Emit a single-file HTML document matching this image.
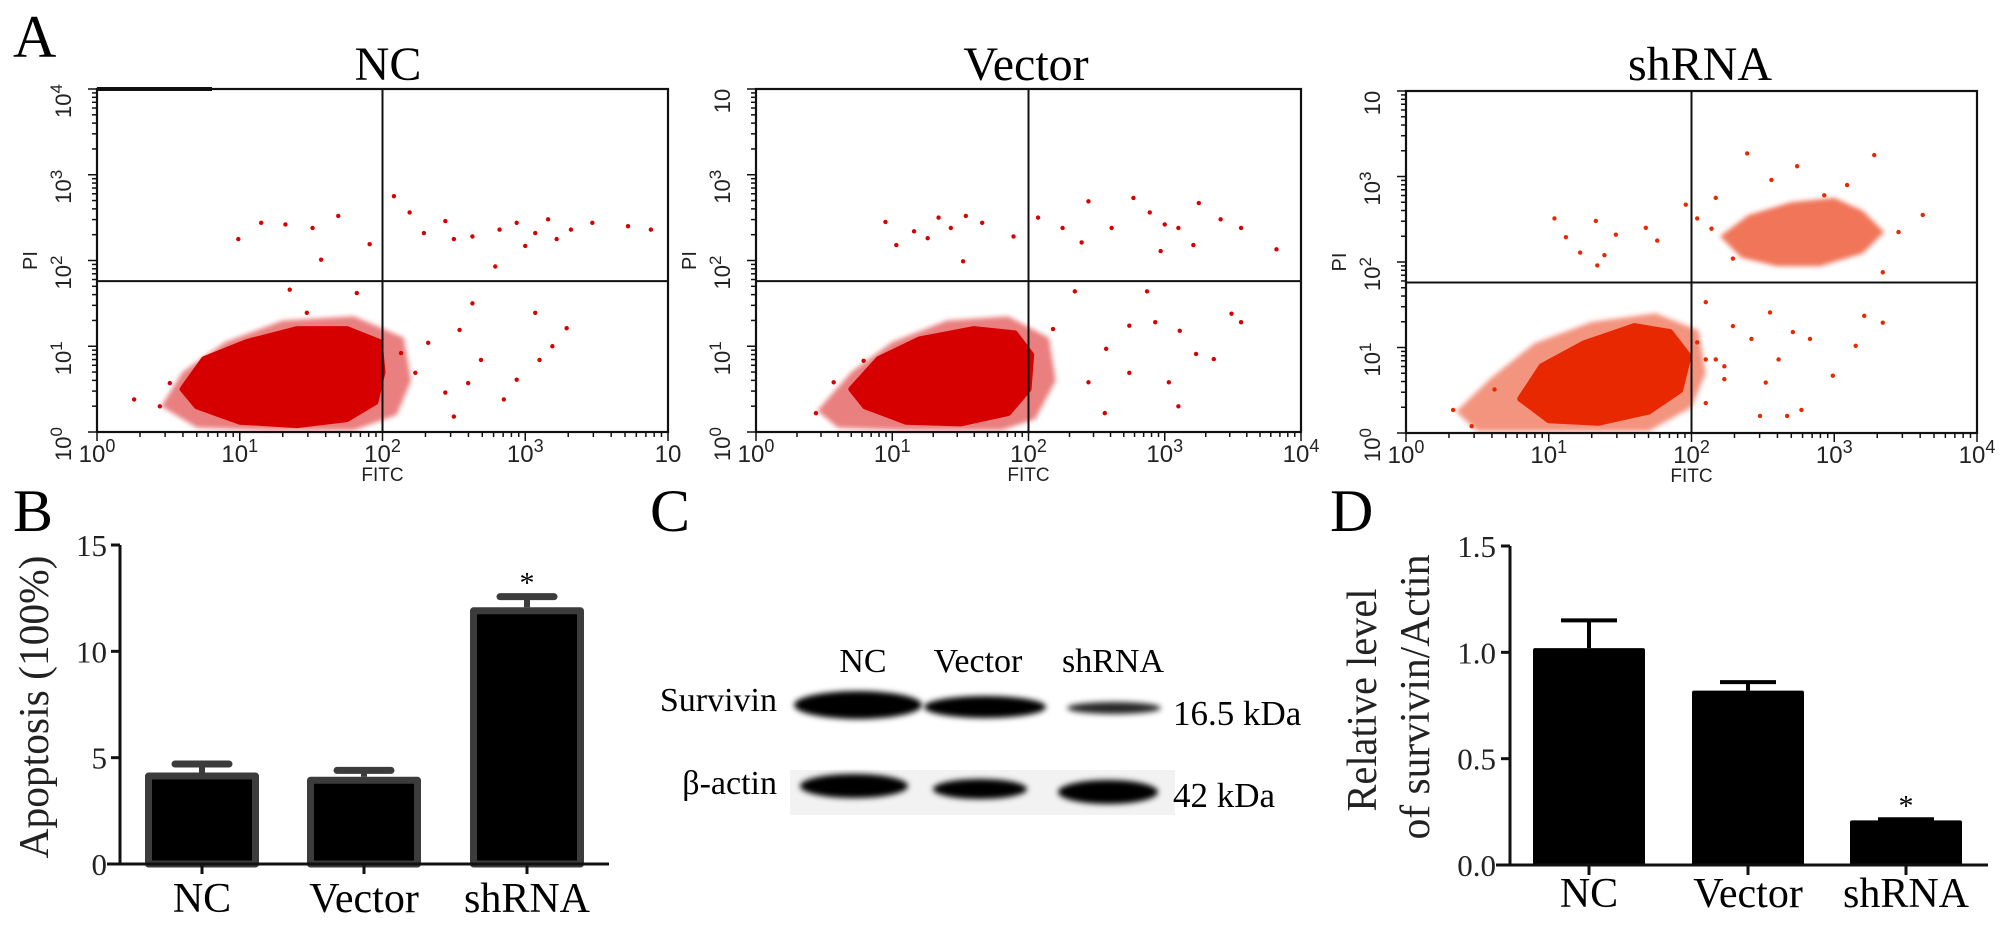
<!DOCTYPE html>
<html><head><meta charset="utf-8"><style>
html,body{margin:0;padding:0;background:#fff;}
svg{display:block;}
.serif{font-family:"Liberation Serif",serif;}
.sans{font-family:"Liberation Sans",sans-serif;}
</style></head><body>
<svg id="fig" width="2008" height="927" viewBox="0 0 2008 927" xmlns="http://www.w3.org/2000/svg">
<defs>
<filter id="blur" x="-20%" y="-50%" width="140%" height="200%"><feGaussianBlur stdDeviation="3"/></filter>
<filter id="soft" x="-10%" y="-10%" width="120%" height="120%"><feGaussianBlur stdDeviation="2.5"/></filter>
</defs>
<g id="root"></g>
</svg>
<script>
// ---------- Data ----------
const groups = ["NC","Vector","shRNA"];
// Panel B: apoptosis (%)
const apoptosisValues = [4.3, 4.1, 12.07];
const apoptosisErr = [0.4, 0.3, 0.5];
const apoptosisTicks = [0,5,10,15];
// Panel D: relative survivin/actin
const survivinValues = [1.02, 0.82, 0.21];
const survivinErr = [0.13, 0.04, 0.005];
const survivinTicks = ["0.0","0.5","1.0","1.5"];
// Flow cytometry (log10 FITC, log10 PI)
const ncCore = [[0.6,0.5],[0.75,0.85],[1.05,1.05],[1.4,1.2],[1.75,1.2],[1.98,1.05],[2.0,0.7],[1.95,0.35],[1.75,0.15],[1.4,0.08],[1.0,0.12],[0.7,0.3]];
const ncHalo = [[0.45,0.3],[0.6,0.7],[0.9,1.05],[1.3,1.3],[1.8,1.35],[2.15,1.1],[2.2,0.6],[2.1,0.2],[1.8,0.02],[1.2,0.02],[0.7,0.05]];
const ncPoints = [[0.99,2.25],[1.15,2.44],[1.32,2.42],[1.51,2.38],[1.69,2.52],[1.91,2.19],[2.08,2.75],[2.19,2.56],[2.29,2.32],[2.44,2.46],[2.63,2.28],[2.82,2.36],[2.94,2.44],[3.07,2.32],[3.16,2.48],[3.32,2.36],[3.47,2.44],[3.72,2.4],[3.88,2.36],[2.79,1.93],[1.57,2.01],[2.5,2.25],[3.0,2.17],[3.22,2.25],[2.32,1.04],[2.54,1.19],[2.69,0.84],[2.94,0.61],[3.1,0.84],[3.29,1.21],[2.63,1.5],[2.44,0.46],[2.85,0.38],[3.07,1.39],[2.23,0.69],[2.5,0.18],[3.19,1.0],[2.6,0.57],[2.13,0.92],[1.35,1.66],[1.82,1.62],[1.47,1.39],[0.51,0.57],[0.44,0.3],[0.26,0.38]];
const vecCore = [[0.7,0.5],[0.9,0.85],[1.2,1.08],[1.6,1.2],[1.9,1.15],[2.02,0.9],[2.0,0.5],[1.85,0.22],[1.5,0.1],[1.1,0.12],[0.8,0.3]];
const vecHalo = [[0.45,0.25],[0.7,0.7],[1.0,1.05],[1.4,1.3],[1.85,1.35],[2.15,1.1],[2.2,0.6],[2.05,0.15],[1.8,0.02],[1.1,0.02],[0.6,0.05]];
const vecPoints = [[0.95,2.45],[1.03,2.18],[1.16,2.34],[1.26,2.26],[1.34,2.5],[1.43,2.38],[1.54,2.52],[1.66,2.44],[1.89,2.28],[2.07,2.5],[2.25,2.38],[2.44,2.69],[2.61,2.38],[2.77,2.73],[2.89,2.56],[3.0,2.42],[3.1,2.38],[3.25,2.67],[3.41,2.48],[3.56,2.38],[3.82,2.13],[2.97,2.11],[1.52,1.99],[2.39,2.21],[3.21,2.18],[2.34,1.64],[2.87,1.64],[3.49,1.38],[3.56,1.28],[2.74,1.24],[2.93,1.28],[3.11,1.18],[3.23,0.91],[3.36,0.85],[2.57,0.97],[2.44,0.58],[2.74,0.69],[3.1,0.3],[2.56,0.22],[2.18,1.2],[3.03,0.58],[0.44,0.22],[0.57,0.58],[0.79,0.83]];
const shCore = [[0.8,0.4],[0.95,0.78],[1.25,1.05],[1.6,1.25],[1.85,1.18],[1.98,0.9],[1.92,0.5],[1.7,0.25],[1.35,0.12],[1.0,0.15]];
const shHalo = [[0.35,0.25],[0.6,0.65],[0.9,1.05],[1.3,1.3],[1.75,1.4],[2.05,1.2],[2.1,0.7],[2.0,0.3],[1.7,0.02],[1.0,0.02],[0.5,0.02]];
const shCluster = [[2.2,2.3],[2.4,2.55],[2.7,2.7],[3.0,2.75],[3.2,2.6],[3.35,2.35],[3.2,2.1],[2.9,1.95],[2.6,1.95],[2.35,2.05]];
const shPoints = [[1.04,2.51],[1.12,2.29],[1.33,2.48],[1.47,2.32],[1.68,2.4],[1.22,2.11],[1.39,2.08],[1.76,2.25],[1.96,2.67],[1.34,1.96],[2.39,3.27],[3.28,3.25],[2.74,3.12],[2.56,2.96],[2.17,2.75],[3.62,2.55],[3.45,2.35],[3.34,1.88],[2.93,2.78],[2.14,2.39],[2.29,2.04],[3.09,2.9],[2.04,2.51],[2.1,1.53],[2.29,1.25],[2.55,1.41],[2.71,1.18],[2.83,1.1],[2.61,0.86],[2.52,0.59],[2.77,0.27],[2.99,0.67],[3.15,1.02],[3.21,1.37],[3.34,1.29],[2.23,0.78],[2.1,0.35],[2.48,0.2],[2.67,0.2],[2.17,0.86],[2.42,1.1],[2.1,0.86],[2.23,0.63],[2.04,1.06],[0.33,0.27],[0.46,0.08],[0.62,0.51]];
const gateX = [2, 2, 2];
const gateY = [1.76, 1.76, 1.76];

// ---------- helpers ----------
const NS = "http://www.w3.org/2000/svg";
const root = document.getElementById('root');
function mk(tag, attrs, parent){ const e=document.createElementNS(NS,tag); for(const k in attrs) e.setAttribute(k,attrs[k]); (parent||root).appendChild(e); return e; }
function txt(s, attrs, parent){ const e=mk('text',attrs,parent); e.textContent=s; return e; }

// Panel letters
[["A",13,57],["B",13,531],["C",650,531],["D",1330,531]].forEach(([l,x,y])=>{
  const t=txt(l,{x:x,y:y,'class':'serif','font-size':60});
  
  
});

// ---------- Flow panels ----------
const flow = [
  {name:"NC", L:97, R:668, T:89, B:432, core:ncCore, halo:ncHalo, pts:ncPoints, cluster:null, col:"#d60000", title:388, topSup:"4", lastSup:""},
  {name:"Vector", L:756, R:1301, T:89, B:432, core:vecCore, halo:vecHalo, pts:vecPoints, cluster:null, col:"#d60000", title:1026, topSup:"", lastSup:"4"},
  {name:"shRNA", L:1406, R:1977, T:91, B:433, core:shCore, halo:shHalo, pts:shPoints, cluster:shCluster, col:"#e82800", title:1700, topSup:"", lastSup:"4"}
];
flow.forEach((p,pi)=>{
  const g=mk('g',{});
  
  
  const sx=l=>p.L+l/4*(p.R-p.L), sy=l=>p.B-l/4*(p.B-p.T);
  const t=txt(p.name,{x:p.title,y:80,'text-anchor':'middle','class':'serif','font-size':48},g);
  
  
  const poly=(arr)=>arr.map(a=>sx(a[0]).toFixed(1)+','+sy(a[1]).toFixed(1)).join(' ');
  const halo=mk('polygon',{points:poly(p.halo),fill:p.col,'fill-opacity':0.5,filter:'url(#soft)'},g);
  
  
  const core=mk('polygon',{points:poly(p.core),fill:p.col,stroke:p.col,'stroke-width':6,'stroke-linejoin':'round'},g);
  
  
  if(p.cluster){
    const c=mk('polygon',{points:poly(p.cluster),fill:p.col,'fill-opacity':0.65,filter:'url(#soft)'},g);
    
    
  }
  p.pts.forEach(a=>{
    const d=mk('circle',{cx:sx(a[0]),cy:sy(a[1]),r:2.2,fill:p.col},g);
    
    
  });
  const box=mk('rect',{x:p.L,y:p.T,width:p.R-p.L,height:p.B-p.T,fill:'none',stroke:'#111','stroke-width':2.2},g);
  
  
  if(pi===0){ mk('line',{x1:p.L,y1:p.T,x2:212,y2:p.T,stroke:'#111','stroke-width':4},g); }
  const gv=mk('line',{x1:sx(gateX[pi]),y1:p.T,x2:sx(gateX[pi]),y2:p.B,stroke:'#111','stroke-width':2},g);
  
  
  const gh=mk('line',{x1:p.L,y1:sy(gateY[pi]),x2:p.R,y2:sy(gateY[pi]),stroke:'#111','stroke-width':2},g);
  
  
  for(let d=0; d<4; d++){
    for(let m=1;m<10;m++){
      const l=d+Math.log10(m); const len=m===1?9:5;
      mk('line',{x1:p.L,y1:sy(l),x2:p.L-len,y2:sy(l),stroke:'#111','stroke-width':1.5},g);
      mk('line',{x1:sx(l),y1:p.B,x2:sx(l),y2:p.B+len,stroke:'#111','stroke-width':1.5},g);
    }
  }
  mk('line',{x1:p.L,y1:p.T,x2:p.L-9,y2:p.T,stroke:'#111','stroke-width':1.5},g);
  mk('line',{x1:p.R,y1:p.B,x2:p.R,y2:p.B+9,stroke:'#111','stroke-width':1.5},g);
  for(let d=0; d<=4; d++){
    const yy=sy(d);
    const lt=mk('text',{x:0,y:0,'class':'sans','font-size':22,fill:'#222','text-anchor':'middle',transform:`translate(${p.L-26},${yy+12}) rotate(-90)`},g);
    
    
    lt.appendChild(document.createTextNode('10'));
    const sup=(d===4)?p.topSup:String(d);
    if(sup){ const ts=document.createElementNS(NS,'tspan'); ts.setAttribute('dy','-9'); ts.setAttribute('font-size','17'); ts.textContent=sup; lt.appendChild(ts); }
  }
  for(let d=0; d<=4; d++){
    const lt=mk('text',{x:sx(d),y:p.B+30,'class':'sans','font-size':24,fill:'#222','text-anchor':'middle'},g);
    
    
    lt.appendChild(document.createTextNode('10'));
    const sup=(d===4)?p.lastSup:String(d);
    if(sup){ const ts=document.createElementNS(NS,'tspan'); ts.setAttribute('dy','-10'); ts.setAttribute('font-size','18'); ts.textContent=sup; lt.appendChild(ts); }
  }
  const fx=txt('FITC',{x:(p.L+p.R)/2,y:p.B+49,'class':'sans','font-size':19,fill:'#222','text-anchor':'middle'},g);
  
  
  const py=txt('PI',{x:0,y:0,'class':'sans','font-size':20,fill:'#222','text-anchor':'middle',transform:`translate(${p.L-60},${sy(2)}) rotate(-90)`},g);
  
  
});

// ---------- Panel B ----------
(function(){
  const g=mk('g',{});
  
  
  const x0=120, y0=864, yTop=545, vmax=15;
  const sy=v=>y0-v/vmax*(y0-yTop);
  const centers=[202,364,527], bw=114;
  apoptosisValues.forEach((v,i)=>{
    const top=sy(v+apoptosisErr[i]);
    mk('line',{x1:centers[i],y1:sy(v),x2:centers[i],y2:top,stroke:'#3c3c3c','stroke-width':6},g);
    const cap=mk('line',{x1:centers[i]-27,y1:top,x2:centers[i]+27,y2:top,stroke:'#3c3c3c','stroke-width':7,'stroke-linecap':'round'},g);
    
    
    const r=mk('rect',{x:centers[i]-bw/2+3.5,y:sy(v)+3.5,width:bw-7,height:y0-sy(v)-3.5,fill:'#000',stroke:'#3c3c3c','stroke-width':7,'stroke-linejoin':'round'},g);
    
    
    mk('line',{x1:centers[i],y1:y0,x2:centers[i],y2:y0+10,stroke:'#111','stroke-width':3},g);
    const l=txt(groups[i],{x:centers[i],y:912,'text-anchor':'middle','class':'serif','font-size':42},g);
    
    
  });
  const star=txt('*',{x:centers[2],y:sy(apoptosisValues[2]+apoptosisErr[2])-4,'text-anchor':'middle','class':'serif','font-size':30},g);
  
  
  mk('line',{x1:x0,y1:yTop,x2:x0,y2:y0,stroke:'#111','stroke-width':3},g);
  mk('line',{x1:107,y1:y0,x2:609,y2:y0,stroke:'#111','stroke-width':3},g);
  apoptosisTicks.forEach(t=>{
    mk('line',{x1:x0,y1:sy(t),x2:x0-9,y2:sy(t),stroke:'#111','stroke-width':3},g);
    const l=txt(String(t),{x:x0-13,y:sy(t)+11,'text-anchor':'end','class':'serif','font-size':31,fill:'#222'},g);
    
    
  });
  const yt=txt('Apoptosis (100%)',{x:0,y:0,'text-anchor':'middle','class':'serif','font-size':42,fill:'#222',textLength:303,lengthAdjust:'spacingAndGlyphs',transform:'translate(48,707) rotate(-90)'},g);
  
  
})();

// ---------- Panel C (western blot) ----------
(function(){
  const g=mk('g',{});
  
  
  mk('rect',{x:790,y:770,width:385,height:45,fill:'#f2f2f2'},g);
  const bands=[
    [858,705,64,14,1],[985,707,61,11,1],[1114,708,47,6,0.85],
    [854,786,54,12,1],[980,789,47,10,1],[1108,792,50,12,1]
  ];
  bands.forEach((b,i)=>{
    const e=mk('ellipse',{cx:b[0],cy:b[1],rx:b[2],ry:b[3],fill:'#000','fill-opacity':b[4],filter:'url(#blur)'},g);
    
    
  });
  [["NC",863],["Vector",978],["shRNA",1113]].forEach(([s,x])=>{
    const t=txt(s,{x:x,y:672,'text-anchor':'middle','class':'serif','font-size':34},g);
    
    
  });
  const s1=txt('Survivin',{x:777,y:711,'text-anchor':'end','class':'serif','font-size':34},g);
  
  
  const s2=txt('β-actin',{x:777,y:794,'text-anchor':'end','class':'serif','font-size':34},g);
  
  
  const k1=txt('16.5 kDa',{x:1173,y:725,'class':'serif','font-size':35},g);
  
  
  const k2=txt('42 kDa',{x:1173,y:807,'class':'serif','font-size':35},g);
  
  
})();

// ---------- Panel D ----------
(function(){
  const g=mk('g',{});
  
  
  const x0=1510, y0=865, yTop=546, vmax=1.5;
  const sy=v=>y0-v/vmax*(y0-yTop);
  const centers=[1589,1748,1906], bw=112;
  survivinValues.forEach((v,i)=>{
    const top=sy(v+survivinErr[i]);
    mk('line',{x1:centers[i],y1:sy(v),x2:centers[i],y2:top,stroke:'#000','stroke-width':4},g);
    const cap=mk('line',{x1:centers[i]-28,y1:top,x2:centers[i]+28,y2:top,stroke:'#000','stroke-width':4},g);
    
    
    const r=mk('rect',{x:centers[i]-bw/2,y:sy(v),width:bw,height:y0-sy(v),fill:'#000',rx:2},g);
    
    
    mk('line',{x1:centers[i],y1:y0,x2:centers[i],y2:y0+10,stroke:'#111','stroke-width':3},g);
    const l=txt(groups[i],{x:centers[i],y:907,'text-anchor':'middle','class':'serif','font-size':42},g);
    
    
  });
  const star=txt('*',{x:centers[2],y:sy(survivinValues[2]+survivinErr[2])-4,'text-anchor':'middle','class':'serif','font-size':30},g);
  
  
  mk('line',{x1:x0,y1:yTop,x2:x0,y2:y0,stroke:'#111','stroke-width':3},g);
  mk('line',{x1:1496,y1:y0,x2:1988,y2:y0,stroke:'#111','stroke-width':3},g);
  survivinTicks.forEach(t=>{
    const v=parseFloat(t);
    mk('line',{x1:x0,y1:sy(v),x2:x0-9,y2:sy(v),stroke:'#111','stroke-width':3},g);
    const l=txt(t,{x:x0-14,y:sy(v)+11,'text-anchor':'end','class':'serif','font-size':31,fill:'#222'},g);
    
    
  });
  const t1=txt('Relative level',{x:0,y:0,'text-anchor':'middle','class':'serif','font-size':42,fill:'#222',textLength:223,lengthAdjust:'spacingAndGlyphs',transform:'translate(1376,700) rotate(-90)'},g);
  
  
  const t2=txt('of survivin/Actin',{x:0,y:0,'text-anchor':'middle','class':'serif','font-size':42,fill:'#222',textLength:285,lengthAdjust:'spacingAndGlyphs',transform:'translate(1429,697) rotate(-90)'},g);
  
  
})();
</script>
</body></html>
